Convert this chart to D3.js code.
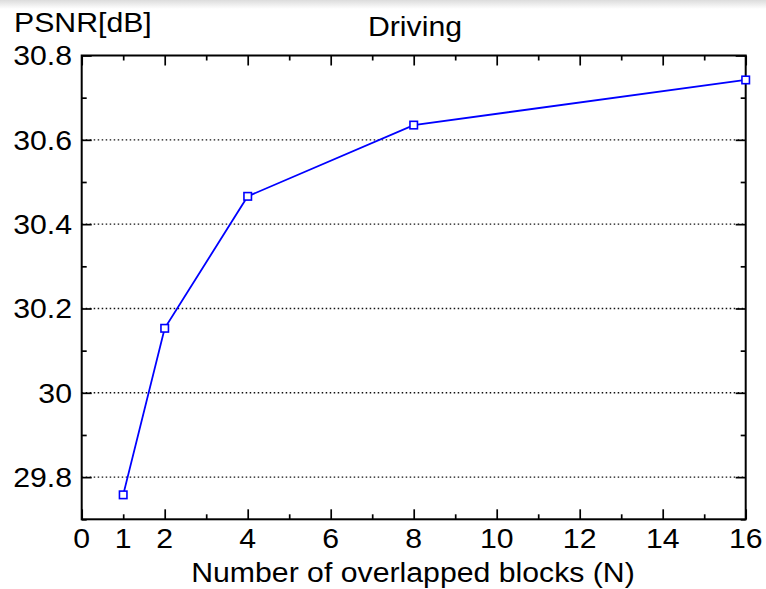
<!DOCTYPE html>
<html><head><meta charset="utf-8">
<script src="https://cdn.jsdelivr.net/npm/d3@7"></script>
<style>body{margin:0;background:#fff}svg{display:block}text{font-family:"Liberation Sans",Arial,sans-serif;fill:#000}</style>
</head><body>
<script>
const title = "Driving";
const yLabel = "PSNR[dB]";
const xLabel = "Number of overlapped blocks (N)";
const blocks = [1, 2, 4, 8, 16];
const psnr = [29.758, 30.153, 30.466, 30.635, 30.742];
const xTickLabels = [0, 1, 2, 4, 6, 8, 10, 12, 14, 16];
const xMinorTicks = [1, 3, 5, 7, 9, 11, 13, 15];
const xMajorTicks = [0, 2, 4, 6, 8, 10, 12, 14, 16];
const yMajorTicks = [29.8, 30.0, 30.2, 30.4, 30.6, 30.8];
const yMinorTicks = [29.7, 29.9, 30.1, 30.3, 30.5, 30.7];
const yGrid = [29.8, 30.0, 30.2, 30.4, 30.6];
const yTickLabels = ["29.8", "30", "30.2", "30.4", "30.6", "30.8"];

const W = 766, H = 589;
const m = {l: 81.7, r: 766 - 745.7, t: 55.5, b: 589 - 519.3};
const SX = 1.12;
const svg = d3.select("body").append("svg").attr("width", W).attr("height", H);

const defs = svg.append("defs");
const grad = defs.append("linearGradient").attr("id", "topfade").attr("x1", 0).attr("x2", 0).attr("y1", 0).attr("y2", 1);
grad.append("stop").attr("offset", 0).attr("stop-color", "#dcdcdc");
grad.append("stop").attr("offset", 1).attr("stop-color", "#fff");
svg.append("rect").attr("width", W).attr("height", 9).attr("fill", "url(#topfade)");

const x = d3.scaleLinear().domain([0, 16]).range([m.l, W - m.r]);
const y = d3.scaleLinear().domain([29.7, 30.8]).range([H - m.b, m.t]);

// grid
svg.append("g").selectAll("line").data(yGrid).join("line")
  .attr("x1", x(0)).attr("x2", x(16)).attr("y1", d => y(d)).attr("y2", d => y(d))
  .attr("stroke", "#111").attr("stroke-width", 1.4).attr("stroke-dasharray", "1.5,2.5");

function stretchText(sel, s) {
  sel.each(function() {
    const t = d3.select(this);
    const xx = +t.attr("x") || 0;
    t.attr("transform", `translate(${xx},0) scale(${s || SX},1) translate(${-xx},0)`);
  });
}

// axes with inward ticks
const axB = svg.append("g").attr("transform", `translate(0,${y(29.7)})`)
  .call(d3.axisBottom(x).tickValues(xMajorTicks).tickSizeInner(-10).tickSizeOuter(0).tickFormat(""));
const axBm = svg.append("g").attr("transform", `translate(0,${y(29.7)})`)
  .call(d3.axisBottom(x).tickValues(xMinorTicks).tickSizeInner(-5).tickSizeOuter(0).tickFormat(""));
const axT = svg.append("g").attr("transform", `translate(0,${y(30.8)})`)
  .call(d3.axisTop(x).tickValues(xMajorTicks).tickSizeInner(-10).tickSizeOuter(0).tickFormat(""));
const axTm = svg.append("g").attr("transform", `translate(0,${y(30.8)})`)
  .call(d3.axisTop(x).tickValues(xMinorTicks).tickSizeInner(-5).tickSizeOuter(0).tickFormat(""));
const axL = svg.append("g").attr("transform", `translate(${x(0)},0)`)
  .call(d3.axisLeft(y).tickValues(yMajorTicks).tickSizeInner(-10).tickSizeOuter(0).tickFormat(""));
const axLm = svg.append("g").attr("transform", `translate(${x(0)},0)`)
  .call(d3.axisLeft(y).tickValues(yMinorTicks).tickSizeInner(-5).tickSizeOuter(0).tickFormat(""));
const axR = svg.append("g").attr("transform", `translate(${x(16)},0)`)
  .call(d3.axisRight(y).tickValues(yMajorTicks).tickSizeInner(-10).tickSizeOuter(0).tickFormat(""));
const axRm = svg.append("g").attr("transform", `translate(${x(16)},0)`)
  .call(d3.axisRight(y).tickValues(yMinorTicks).tickSizeInner(-5).tickSizeOuter(0).tickFormat(""));
[axB, axBm, axT, axTm, axL, axLm, axR, axRm].forEach(a => {
  a.select(".domain").remove();
  a.selectAll(".tick line").attr("stroke", "#000").attr("stroke-width", 1.7);
});

// box
svg.append("rect").attr("x", x(0)).attr("y", y(30.8)).attr("width", x(16) - x(0)).attr("height", y(29.7) - y(30.8))
  .attr("fill", "none").attr("stroke", "#000").attr("stroke-width", 2);

// tick labels
svg.append("g").selectAll("text").data(xTickLabels).join("text")
  .attr("x", d => x(d)).attr("y", 548).attr("text-anchor", "middle").attr("font-size", 27)
  .text(d => d).call(stretchText);
svg.append("g").selectAll("text").data(yMajorTicks).join("text")
  .attr("x", 72).attr("y", d => y(d) + 10).attr("text-anchor", "end").attr("font-size", 27)
  .text((d, i) => yTickLabels[i]).call(stretchText);

// line
const line = d3.line().x((d, i) => x(blocks[i])).y(d => y(d));
svg.append("path").datum(psnr).attr("d", line).attr("fill", "none").attr("stroke", "#0000ff").attr("stroke-width", 1.8);
svg.append("g").selectAll("rect").data(psnr).join("rect")
  .attr("x", (d, i) => x(blocks[i]) - 3.75).attr("y", d => y(d) - 3.75).attr("width", 7.5).attr("height", 7.5)
  .attr("fill", "#fff").attr("stroke", "#0000ff").attr("stroke-width", 1.6);

// labels
svg.append("text").attr("x", 415).attr("y", 36).attr("text-anchor", "middle").attr("font-size", 28).text(title).call(stretchText, 1.08);
svg.append("text").attr("x", 14).attr("y", 32).attr("font-size", 27).text(yLabel).call(stretchText);
svg.append("text").attr("x", 413).attr("y", 582).attr("text-anchor", "middle").attr("font-size", 27).text(xLabel).call(stretchText);
</script>
</body></html>
